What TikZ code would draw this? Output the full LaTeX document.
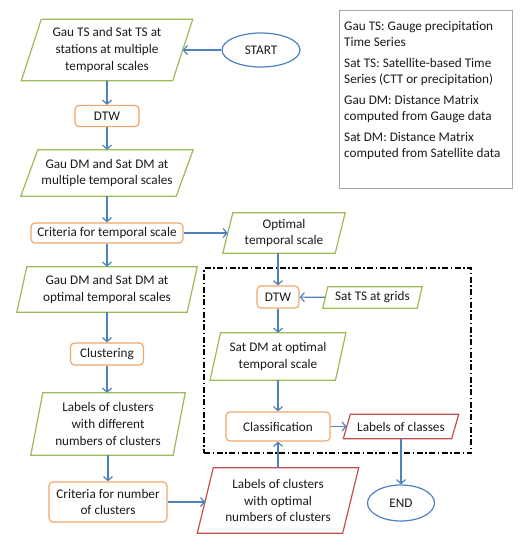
\documentclass[tikz,border=0pt]{standalone}
\usepackage{fontspec}
\setmainfont{Carlito}
\usetikzlibrary{arrows.meta,shapes.geometric}
\definecolor{gr}{HTML}{9BBB59}
\definecolor{orb}{HTML}{F0A86A}
\definecolor{rd}{HTML}{C0504D}
\definecolor{bl}{HTML}{4F81BD}
\definecolor{gy}{HTML}{A6A6A6}
\definecolor{tx}{HTML}{1A1A1A}
\newcommand\fs{\fontsize{13.2}{16.6}\selectfont}
\tikzset{
 base/.style={font=\fs, inner sep=0pt, align=center, text=tx},
 pg/.style 2 args={base, append after command={\pgfextra{\draw[#1, line width=1.2pt, line join=miter] ([xshift=#2/2]\tikzlastnode.north west) -- ([xshift=#2/2]\tikzlastnode.north east) -- ([xshift=-#2/2]\tikzlastnode.south east) -- ([xshift=-#2/2]\tikzlastnode.south west) -- cycle;}}},
 gpara/.style={pg={gr}{#1}},
 rpara/.style={pg={rd}{#1}},
 proc/.style={base, draw=orb, line width=1.2pt, rounded corners=4pt},
 term/.style={base, ellipse, draw=bl, line width=1.2pt},
 arr/.style={draw=bl, line width=1.2pt, -{Straight Barb[length=4pt,width=9pt]}},
 sz/.style 2 args={minimum width=#1pt, minimum height=#2pt},
 grpbox/.style={draw=black, line width=1.2pt, dash pattern=on 6pt off 2.5pt on 1.5pt off 2.5pt},
 legbox/.style={draw=gy, line width=0.8pt},
}
\begin{document}
\begin{tikzpicture}[x=1pt,y=-1pt]
\useasboundingbox (0,0) rectangle (521,550);
% legend
\node[legbox, sz={173}{178}] (leg) at (425.5,99) {};
\node[font=\fontsize{13.2}{16}\selectfont, text=tx, align=left, inner sep=0pt, anchor=north west] (legtxt) at (344,21)
 {Gau TS: Gauge precipitation\\Time Series\\[5pt]Sat TS: Satellite-based Time\\Series (CTT or precipitation)\\[5pt]Gau DM: Distance Matrix\\computed from Gauge data\\[5pt]Sat DM: Distance Matrix\\computed from Satellite data};
% group box
\node[grpbox, sz={267}{185}] (grp) at (337.5,360.5) {};
% left column
\node[gpara=20, sz={151}{61}] (n1) at (107,50) {Gau TS and Sat TS at\\stations at multiple\\temporal scales};
\node[term, sz={78}{34}] (start) at (261,50) {START};
\node[proc, sz={64}{21}] (dtw1) at (107,116) {DTW};
\node[gpara=17, sz={155}{46}] (n3) at (107,173) {Gau DM and Sat DM at\\multiple temporal scales};
\node[proc, sz={152}{20}] (crit1) at (107,233) {Criteria for temporal scale};
\node[gpara=10, sz={170}{45}] (n5) at (107,289.5) {Gau DM and Sat DM at\\optimal temporal scales};
\node[proc, sz={73}{22}] (clust) at (107,354) {Clustering};
\node[gpara=12, sz={142}{62}] (labcl) at (108,424) {Labels of clusters\\with different\\numbers of clusters};
\node[proc, sz={118}{40}] (crit2) at (108,502) {Criteria for number\\of clusters};
% right column
\node[gpara=10, sz={112}{40}] (opt) at (284,233) {Optimal\\temporal scale};
\node[proc, sz={42}{22}] (dtw2) at (278,297) {DTW};
\node[gpara=5, sz={94}{21}] (satg) at (372.5,297.5) {Sat TS at grids};
\node[gpara=10.5, sz={125}{47}] (satdm) at (278,356.5) {Sat DM at optimal\\temporal scale};
\node[proc, sz={104}{29}] (cls) at (278,426.5) {Classification};
\node[rpara=7, sz={108}{24}] (labcs) at (401,426.5) {Labels of classes};
\node[rpara=16, sz={145}{65}] (labopt) at (278,500.5) {Labels of clusters\\with optimal\\numbers of clusters};
\node[term, sz={67}{36}] (end) at (401,503) {END};
% connectors
\draw[arr] (start) -- (n1);
\draw[arr] (n1) -- (dtw1);
\draw[arr] (dtw1) -- (n3);
\draw[arr] (n3) -- (crit1);
\draw[arr] (crit1) -- (n5);
\draw[arr] (n5) -- (clust);
\draw[arr] (clust.south) -- (clust.south |- labcl.north);
\draw[arr] (labcl) -- (crit2);
\draw[arr] (crit1) -- (crit1 -| opt.west);
\draw[arr] (dtw2 |- opt.south) -- (dtw2.north);
\draw[arr] (satg) -- (dtw2);
\draw[arr] (dtw2) -- (satdm);
\draw[arr] (satdm) -- (cls);
\draw[arr] (labopt) -- (cls);
\draw[arr] (crit2.east) -- (crit2.east -| labopt.west);
\draw[arr] (cls) -- (labcs);
\draw[arr] (labcs) -- (end);
\end{tikzpicture}
\end{document}
